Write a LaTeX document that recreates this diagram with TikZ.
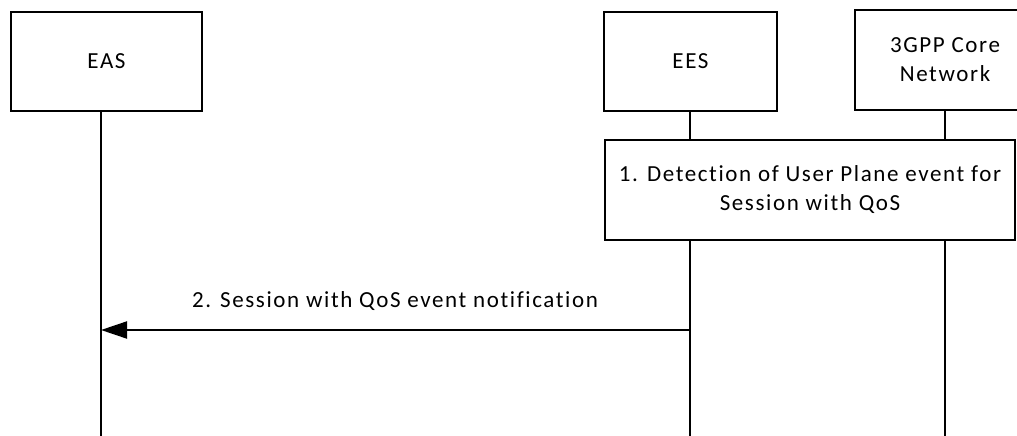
\documentclass[tikz,border=0pt]{standalone}
\usepackage{fontspec}
\setmainfont{Carlito}[LetterSpace=7,Ligatures=NoCommon]
\usepackage{tikz}
\usetikzlibrary{arrows.meta,positioning,calc}

\begin{document}
\begin{tikzpicture}[
  x=1pt,y=-1pt,
  font=\fontsize{23}{29}\selectfont,
  entity/.style={draw=black,line width=2pt,fill=white,minimum height=99pt,align=center,inner sep=2pt},
  action/.style={draw=black,line width=2pt,fill=white,minimum height=100pt,align=center,inner sep=2pt},
  life/.style={line width=2pt,draw=black},
  msg/.style={-{Triangle[length=26pt,width=17pt]},line width=2pt,draw=black}
]
\useasboundingbox (0,0) rectangle (1017,436);
% entities
\node[entity,minimum width=191pt] (eas)  at (106.5,61.5) {EAS};
\node[entity,minimum width=173pt] (ees)  at (690.5,61.5) {EES};
\node[entity,minimum width=180pt] (core) at (945,60)     {3GPP Core\\Network};
% lifelines
\coordinate (easend)  at (101,436);
\coordinate (eesend)  at (690,436);
\coordinate (coreend) at (945,436);
\draw[life] (eas.south -| easend) -- (easend);
\draw[life] (ees.south -| eesend) -- (eesend);
\draw[life] (core.south -| coreend) -- (coreend);
% step 1
\node[action,minimum width=410pt] (det) at (810,190) {1. Detection of User Plane event for\\Session with QoS};
% step 2
\coordinate (from2) at (690,330);
\draw[msg] (from2) -- (from2 -| easend);
\node[anchor=base] (lbl2) at (395,307) {2. Session with QoS event notification};
\end{tikzpicture}
\end{document}
